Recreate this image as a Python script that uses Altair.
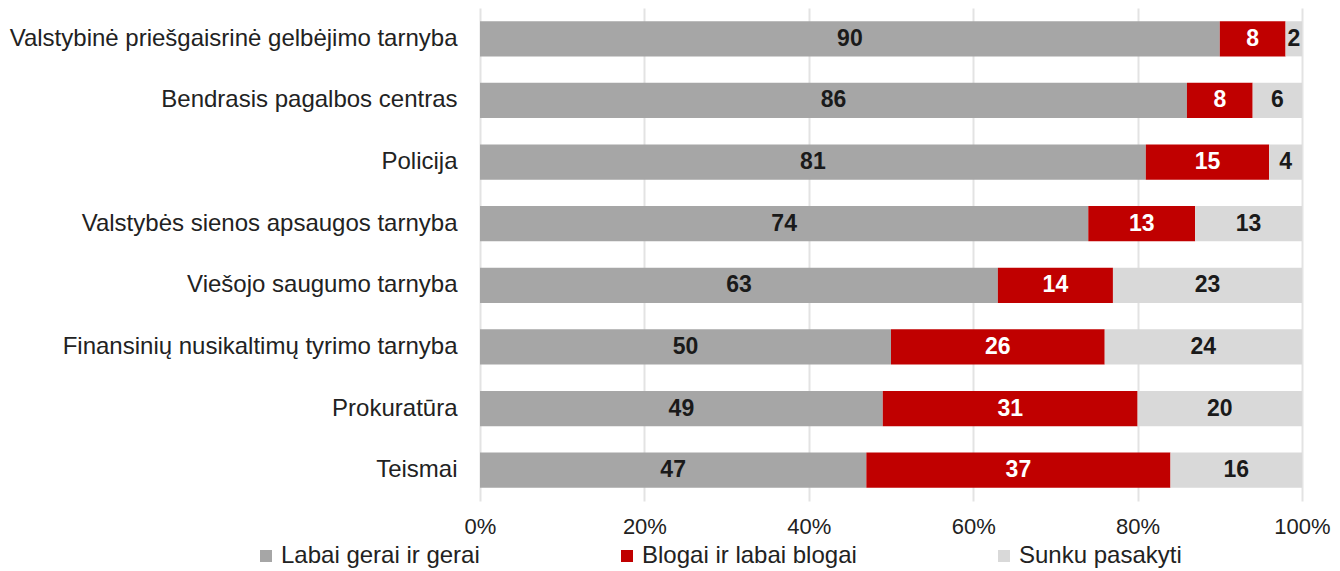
import altair as alt
import pandas as pd

categories = [
    "Valstybinė priešgaisrinė gelbėjimo tarnyba",
    "Bendrasis pagalbos centras",
    "Policija",
    "Valstybės sienos apsaugos tarnyba",
    "Viešojo saugumo tarnyba",
    "Finansinių nusikaltimų tyrimo tarnyba",
    "Prokuratūra",
    "Teismai",
]
series = ["Labai gerai ir gerai", "Blogai ir labai blogai", "Sunku pasakyti"]
good = [90, 86, 81, 74, 63, 50, 49, 47]
bad = [8, 8, 15, 13, 14, 26, 31, 37]
hard = [2, 6, 4, 13, 23, 24, 20, 16]
colors = ["#A6A6A6", "#C00000", "#D9D9D9"]
text_colors = ["#1A1A1A", "#FFFFFF", "#1A1A1A"]

rows = []
for i, cat in enumerate(categories):
    start = 0
    for j, (s, vals) in enumerate(zip(series, [good, bad, hard])):
        v = vals[i]
        rows.append({
            "cat": cat, "series": s, "order": j, "value": v,
            "start": start, "end": start + v, "mid": start + v / 2,
            "tcolor": text_colors[j],
        })
        start += v
df = pd.DataFrame(rows)

y_enc = alt.Y("cat:N", sort=categories, title=None,
              scale=alt.Scale(paddingInner=0.43, paddingOuter=0.215),
              axis=alt.Axis(labelFontSize=24, labelColor="#222222", labelPadding=23,
                            ticks=False, domain=False, grid=False,
                            labelFont="Liberation Sans", labelLimit=600))

bars = alt.Chart(df).mark_bar().encode(
    x=alt.X("start:Q", scale=alt.Scale(domain=[0, 100], nice=False),
            axis=alt.Axis(values=[0, 20, 40, 60, 80, 100], labelExpr="datum.value + '%'",
                          title=None, grid=True, gridColor="#E3E3E3", gridWidth=2,
                          domain=False, ticks=False, labelFontSize=22,
                          labelColor="#222222", labelPadding=15,
                          labelFont="Liberation Sans", labelFlush=False)),
    x2="end:Q",
    y=y_enc,
    color=alt.Color("series:N", sort=series,
                    scale=alt.Scale(domain=series, range=colors),
                    legend=alt.Legend(orient="none", legendX=-226, legendY=536,
                                      direction="horizontal", title=None, padding=0,
                                      symbolType="square", symbolSize=144,
                                      symbolStrokeWidth=0,
                                      labelFontSize=24, labelColor="#222222",
                                      labelFont="Liberation Sans",
                                      columnPadding=135, labelOffset=3,
                                      labelLimit=400)),
    order=alt.Order("order:Q"),
)

texts = alt.Chart(df).mark_text(fontSize=23, fontWeight="bold",
                                font="Liberation Sans", baseline="middle").encode(
    x=alt.X("mid:Q"),
    y=alt.Y("cat:N", sort=categories),
    text=alt.Text("value:Q"),
    color=alt.Color("tcolor:N", scale=None),
)

chart = (bars + texts).properties(
    width=822, height=493,
    autosize=alt.AutoSizeParams(type="none"),
    padding={"left": 472, "top": 0, "right": 30, "bottom": 70},
).configure_view(stroke=None)

chart.save("out.html", embed_options={"renderer": "svg", "actions": False})
